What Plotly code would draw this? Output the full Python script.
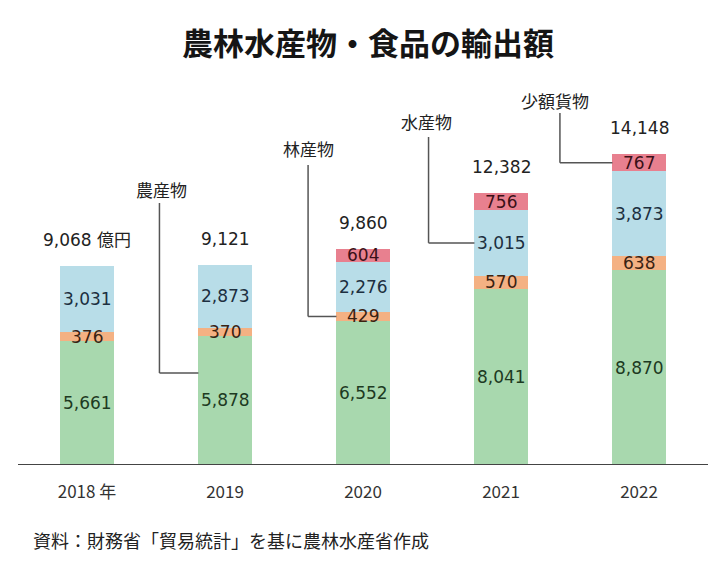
import plotly.graph_objects as go

years = ["2018 年", "2019", "2020", "2021", "2022"]
agri = [5661, 5878, 6552, 8041, 8870]      # 農産物
forest = [376, 370, 429, 570, 638]         # 林産物
fish = [3031, 2873, 2276, 3015, 3873]      # 水産物
small = [0, 0, 604, 756, 767]              # 少額貨物
totals = [9068, 9121, 9860, 12382, 14148]
total_labels = ["9,068 億円", "9,121", "9,860", "12,382", "14,148"]

series = [
    ("農産物", agri, "#a8d8ae", "#1d3a22"),
    ("林産物", forest, "#f4b183", "#3a2212"),
    ("水産物", fish, "#b8dde8", "#1c2f40"),
    ("少額貨物", small, "#e8808f", "#3a1018"),
]

CJK = "Noto Sans CJK JP"
NUM = "DejaVu Sans, Noto Sans CJK JP"
BARW = 0.385
W, H = 720, 569
ML, MR, MT, MB = 18, 12, 100, 104
pw, ph = W - ML - MR, H - MT - MB
YMAX = 16629

fig = go.Figure()
xs = list(range(len(years)))
for name, vals, col, _ in series:
    fig.add_trace(go.Bar(x=xs, y=vals, name=name, marker=dict(color=col, line=dict(width=0)),
                         width=BARW, hoverinfo="skip"))

annotations = []
mids = {}
base = [0] * len(years)
for name, vals, col, tcol in series:
    mids[name] = []
    for i, v in enumerate(vals):
        m = base[i] + v / 2
        mids[name].append(m)
        if v > 0:
            annotations.append(dict(x=i, y=m, text=f"{v:,}", showarrow=False, xref="x", yref="y",
                                    xanchor="center", yanchor="middle",
                                    font=dict(size=17, color=tcol, family=NUM)))
        base[i] += v

for i, t in enumerate(totals):
    annotations.append(dict(x=i, y=t, text=total_labels[i], showarrow=False, xref="x", yref="y",
                            xanchor="center", yanchor="bottom", yshift=14,
                            font=dict(size=17, color="#222", family=NUM)))

# callouts: (label, series, bar index, vertical-line x, fixed horizontal y or None, line top y, label x, label y)
callouts = [
    ("農産物", "農産物", 1, 0.525, 4191, 11936, 0.540, 12550),
    ("林産物", "林産物", 2, 1.602, None, 13667, 1.602, 14442),
    ("水産物", "水産物", 3, 2.475, None, 14943, 2.460, 15650),
    ("少額貨物", "少額貨物", 4, 3.427, None, 16036, 3.390, 16600),
]
shapes = []
for label, sname, bi, vx, hy, top, lx, ly in callouts:
    yh = hy if hy is not None else mids[sname][bi]
    shapes.append(dict(type="line", xref="x", yref="y", x0=vx, x1=vx, y0=yh, y1=top,
                       line=dict(color="#555", width=1.5)))
    shapes.append(dict(type="line", xref="x", yref="y", x0=vx, x1=bi - BARW / 2, y0=yh, y1=yh,
                       line=dict(color="#555", width=1.5)))
    annotations.append(dict(x=lx, y=ly, text=label, showarrow=False, xref="x", yref="y",
                            xanchor="center", yanchor="middle",
                            font=dict(size=17, color="#222", family=CJK)))

# baseline axis
shapes.append(dict(type="line", xref="paper", yref="y", x0=0, x1=1, y0=0, y1=0,
                   line=dict(color="#444", width=2)))

annotations.append(dict(xref="paper", yref="paper", x=(368 - ML) / pw, y=(H - MB - 42) / ph,
                        xanchor="center", yanchor="middle",
                        text="<b>農林水産物・食品の輸出額</b>",
                        showarrow=False, font=dict(size=31, color="#151515", family=CJK)))
annotations.append(dict(xref="paper", yref="paper", x=(31 - ML) / pw, y=(H - MB - 540) / ph,
                        xanchor="left", yanchor="middle",
                        text="資料：財務省「貿易統計」を基に農林水産省作成", showarrow=False,
                        font=dict(size=18, color="#222", family=CJK)))

fig.update_layout(
    width=W, height=H, barmode="stack", showlegend=False,
    margin=dict(l=ML, r=MR, t=MT, b=MB),
    paper_bgcolor="white", plot_bgcolor="white",
    font=dict(family=CJK, color="#222"),
    hovermode=False,
    xaxis=dict(range=[-0.5, 4.5], tickmode="array", tickvals=xs, ticktext=years,
               showgrid=False, zeroline=False, showline=False,
               ticks="outside", ticklen=12, tickcolor="rgba(0,0,0,0)",
               tickfont=dict(size=17, color="#333", family=CJK)),
    yaxis=dict(range=[0, YMAX], visible=False, showgrid=False, zeroline=False),
    annotations=annotations, shapes=shapes,
)
fig.write_html("out.html", config={"displayModeBar": False, "staticPlot": True},
               post_script="document.body.style.margin='0';document.body.style.overflow='hidden';")
